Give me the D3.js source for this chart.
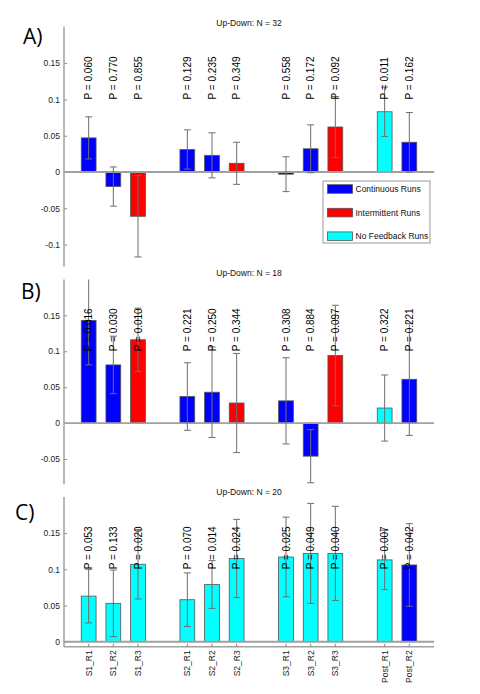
<!DOCTYPE html>
<html><head><meta charset="utf-8">
<script src="https://cdn.jsdelivr.net/npm/d3@7"></script>
<style>body{margin:0;background:#fff}svg{display:block}</style>
</head><body>
<svg id="c" width="480" height="694"></svg>
<script>
const groups = ["S1","S2","S3","Post"];
const categories = ["S1_R1","S1_R2","S1_R3","S2_R1","S2_R2","S2_R3","S3_R1","S3_R2","S3_R3","Post_R1","Post_R2"];
const runTypes = ["Continuous Runs","Intermittent Runs","No Feedback Runs"];
const runColors = ["#0000ff","#ff0000","#00ffff"];

const typesAB = ["Continuous Runs","Continuous Runs","Intermittent Runs","Continuous Runs","Continuous Runs","Intermittent Runs","Continuous Runs","Continuous Runs","Intermittent Runs","No Feedback Runs","Continuous Runs"];
const typesC = ["No Feedback Runs","No Feedback Runs","No Feedback Runs","No Feedback Runs","No Feedback Runs","No Feedback Runs","No Feedback Runs","No Feedback Runs","No Feedback Runs","No Feedback Runs","Continuous Runs"];

const meanA = [0.047,-0.020,-0.061,0.031,0.023,0.012,-0.003,0.032,0.062,0.083,0.041];
const errA  = [0.029,0.027,0.056,0.027,0.031,0.029,0.024,0.033,0.042,0.034,0.041];
const pA    = ["0.060","0.770","0.855","0.129","0.235","0.349","0.558","0.172","0.092","0.011","0.162"];

const meanB = [0.143,0.081,0.116,0.037,0.043,0.028,0.031,-0.046,0.094,0.021,0.061];
const errB  = [0.062,0.040,0.044,0.047,0.063,0.069,0.060,0.037,0.070,0.046,0.078];
const pB    = ["0.016","0.030","0.010","0.221","0.250","0.344","0.308","0.884","0.097","0.322","0.221"];

const meanC = [0.063,0.053,0.107,0.058,0.079,0.115,0.117,0.122,0.122,0.113,0.106];
const errC  = [0.037,0.046,0.048,0.037,0.033,0.054,0.055,0.069,0.065,0.041,0.057];
const pC    = ["0.053","0.133","0.020","0.070","0.014","0.024","0.025","0.049","0.040","0.007","0.042"];

const titles = ["Up-Down: N = 32","Up-Down: N = 18","Up-Down: N = 20"];
const panelLetters = ["A)","B)","C)"];
const ticksA = [-0.1,-0.05,0,0.05,0.1,0.15];
const ticksB = [-0.05,0,0.05,0.1,0.15];
const ticksC = [0,0.05,0.1,0.15];
const domainA = [-0.13,0.2], domainB = [-0.085,0.2], domainC = [-0.007,0.2];
const pLabelLevel = 0.1;

const svg = d3.select("#c");
const FONT = "'Liberation Sans', Arial, sans-serif";
const color = d3.scaleOrdinal().domain(runTypes).range(runColors);

// x band domain with spacer slots between groups
const slots = [];
groups.forEach((g,gi)=>{
  categories.filter(c=>c.split("_")[0]===g).forEach(c=>slots.push(c));
  if (gi < groups.length-1) slots.push("gap"+gi);
});
const x = d3.scaleBand().domain(slots).range([64,434]).paddingInner(0.4).paddingOuter(0.7);
const xc = c => x(c) + x.bandwidth()/2;

function fmt(v){ if (v===0) return "0"; return String(+v.toFixed(2)); }

let clipId = 0;
function panel(o){
  const y = d3.scaleLinear().domain(o.domain).range(o.range);
  const g = svg.append("g");
  const id = "clip"+(clipId++);
  svg.append("clipPath").attr("id",id).append("rect")
    .attr("x",60).attr("y",o.range[1]).attr("width",380).attr("height",o.range[0]-o.range[1]);

  // title
  g.append("text").attr("x",249).attr("y",o.titleY).attr("text-anchor","middle")
    .attr("font-family",FONT).attr("font-size",8.5).attr("fill","#111").text(o.title);
  // panel letter
  g.append("text").attr("x",o.letterX).attr("y",o.letterY)
    .attr("font-family","'Open Sans', Lato, sans-serif").attr("font-size",21).attr("fill","#000").text(o.letter);

  // y axis
  const ax = d3.axisLeft(y).tickValues(o.ticks).tickFormat(fmt).tickSize(-3).tickPadding(4);
  const ag = g.append("g").attr("transform","translate(64,0)").call(ax);
  ag.select(".domain").remove();
  ag.append("line").attr("x1",0).attr("x2",0).attr("y1",o.range[1]).attr("y2",o.range[0])
    .attr("stroke","#a0a0a0").attr("stroke-width",1.5);
  ag.selectAll(".tick line").attr("stroke","#888");
  ag.selectAll(".tick text").attr("font-family",FONT).attr("font-size",8.5).attr("fill","#222");

  const data = categories.map((c,i)=>({c, m:o.mean[i], e:o.err[i], t:o.types[i], p:o.p[i]}));

  // bars
  g.append("g").selectAll("rect").data(data).join("rect")
    .attr("x",d=>x(d.c)).attr("width",x.bandwidth())
    .attr("y",d=>y(Math.max(0,d.m))).attr("height",d=>Math.abs(y(d.m)-y(0)))
    .attr("fill",d=>color(d.t)).attr("stroke","#555").attr("stroke-width",0.8);

  // zero line
  g.append("line").attr("x1",64).attr("x2",434).attr("y1",y(0)).attr("y2",y(0))
    .attr("stroke","#a0a0a0").attr("stroke-width",1.8);

  // bottom axis for C
  if (o.xlabels){
    g.append("line").attr("x1",64).attr("x2",434).attr("y1",o.range[0]).attr("y2",o.range[0])
      .attr("stroke","#a0a0a0").attr("stroke-width",1.5);
    g.append("g").selectAll("line").data(categories).join("line")
      .attr("x1",xc).attr("x2",xc).attr("y1",o.range[0]).attr("y2",o.range[0]-3)
      .attr("stroke","#888");
    g.append("g").selectAll("text").data(categories).join("text")
      .attr("transform",c=>`translate(${xc(c)+3},${o.range[0]+3.5}) rotate(-90)`)
      .attr("text-anchor","end").attr("font-family",FONT).attr("font-size",8.5).attr("fill","#222")
      .text(c=>c);
  }

  // error bars
  const eg = g.append("g").attr("clip-path",`url(#${id})`).attr("stroke","#6e6e6e").attr("stroke-width",1);
  data.forEach(d=>{
    const cx = xc(d.c);
    eg.append("line").attr("x1",cx).attr("x2",cx).attr("y1",y(d.m+d.e)).attr("y2",y(d.m-d.e));
    eg.append("line").attr("x1",cx-3.5).attr("x2",cx+3.5).attr("y1",y(d.m+d.e)).attr("y2",y(d.m+d.e));
    eg.append("line").attr("x1",cx-3.5).attr("x2",cx+3.5).attr("y1",y(d.m-d.e)).attr("y2",y(d.m-d.e));
  });

  // P labels
  g.append("g").selectAll("text").data(data).join("text")
    .attr("transform",d=>`translate(${xc(d.c)+3.6},${y(pLabelLevel)}) rotate(-90)`)
    .attr("font-family",FONT).attr("font-size",10).attr("fill","#000")
    .text(d=>"P = "+d.p);
}

panel({domain:domainA, range:[266.4,26.8], ticks:ticksA, mean:meanA, err:errA, p:pA, types:typesAB,
  title:titles[0], titleY:25.5, letter:panelLetters[0], letterX:23, letterY:43.5});
panel({domain:domainB, range:[484.2,279.4], ticks:ticksB, mean:meanB, err:errB, p:pB, types:typesAB,
  title:titles[1], titleY:276, letter:panelLetters[1], letterX:21, letterY:299});
panel({domain:domainC, range:[646.8,496.9], ticks:ticksC, mean:meanC, err:errC, p:pC, types:typesC,
  title:titles[2], titleY:495, letter:panelLetters[2], letterX:15, letterY:520, xlabels:true});

// legend (panel A)
const lg = svg.append("g");
lg.append("rect").attr("x",323).attr("y",181).attr("width",107).attr("height",62)
  .attr("fill","#fff").attr("stroke","#999").attr("stroke-width",1);
runTypes.forEach((t,i)=>{
  const cy = 189 + i*23.6;
  lg.append("rect").attr("x",327.5).attr("y",cy-4.3).attr("width",25).attr("height",8.6)
    .attr("fill",color(t)).attr("stroke","#555").attr("stroke-width",0.8);
  lg.append("text").attr("x",355.5).attr("y",cy+3).attr("font-family",FONT).attr("font-size",8.5)
    .attr("fill","#111").text(t);
});
</script>
</body></html>
